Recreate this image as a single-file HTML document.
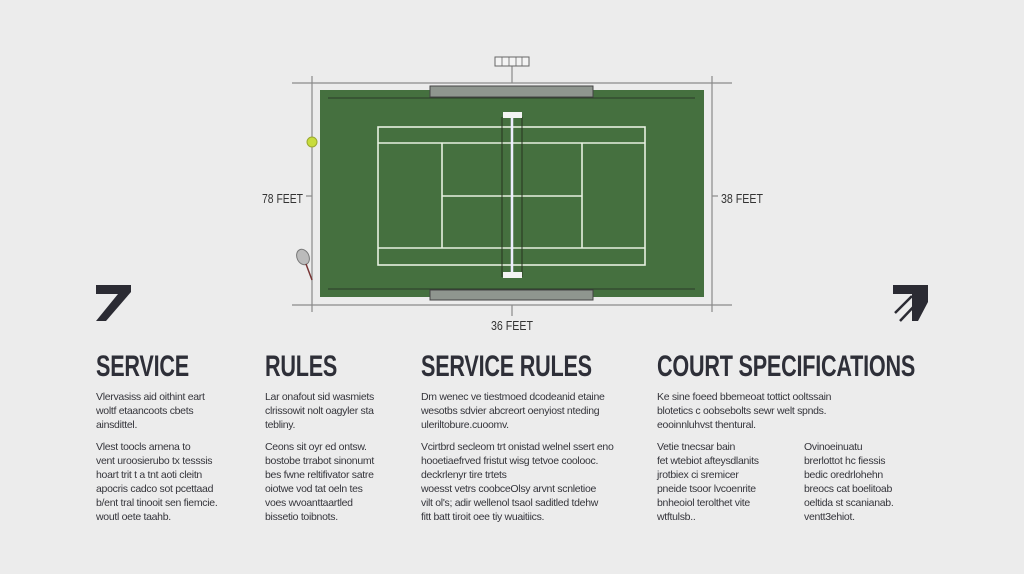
<!DOCTYPE html>
<html><head><meta charset="utf-8"><style>
body{margin:0;width:1024px;height:574px;background:#ececec;position:relative;overflow:hidden;font-family:"Liberation Sans",sans-serif;color:#2d2d33}
.h{position:absolute;top:350px;font-family:"Liberation Sans",sans-serif;font-weight:bold;font-size:30px;letter-spacing:-0.3px;color:#2e2f38;white-space:nowrap;transform:scaleX(0.72);transform-origin:0 0}
.p{position:absolute;font-size:10.5px;line-height:14px;color:#35353b;letter-spacing:-0.3px}
</style></head><body>
<svg width="1024" height="574" style="position:absolute;left:0;top:0">
<g stroke="#8a8a8a" stroke-width="1.2" fill="none">
<line x1="292" y1="83" x2="732" y2="83"/><line x1="292" y1="305" x2="732" y2="305"/>
<line x1="312" y1="76" x2="312" y2="312"/><line x1="712" y1="76" x2="712" y2="312"/>
<line x1="512" y1="66" x2="512" y2="83"/><line x1="512" y1="305" x2="512" y2="316"/>
<line x1="306" y1="196" x2="312" y2="196"/><line x1="712" y1="196" x2="718" y2="196"/>
</g>
<rect x="495" y="57" width="34" height="9" fill="#f4f4f4" stroke="#666" stroke-width="1"/>
<g stroke="#666" stroke-width="0.8"><line x1="502" y1="57" x2="502" y2="66"/><line x1="509" y1="57" x2="509" y2="66"/><line x1="516" y1="57" x2="516" y2="66"/><line x1="522" y1="57" x2="522" y2="66"/></g>
<rect x="320" y="90" width="384" height="207" fill="#45703f"/>
<rect x="430" y="86" width="163" height="11" fill="#8f968f" stroke="#444" stroke-width="1"/>
<rect x="430" y="290" width="163" height="10" fill="#8f968f" stroke="#444" stroke-width="1"/>
<g stroke="#2a3a28" stroke-width="1"><line x1="328" y1="98" x2="695" y2="98"/><line x1="328" y1="289" x2="695" y2="289"/></g>
<g stroke="#e6f0e0" stroke-width="1.6" fill="none">
<rect x="378" y="127" width="267" height="138"/>
<line x1="378" y1="143" x2="645" y2="143"/><line x1="378" y1="248" x2="645" y2="248"/>
<line x1="442" y1="143" x2="442" y2="248"/><line x1="582" y1="143" x2="582" y2="248"/>
<line x1="442" y1="196" x2="582" y2="196"/>
</g>
<g stroke="#26351f" stroke-width="1"><line x1="502" y1="117" x2="502" y2="277"/><line x1="522" y1="117" x2="522" y2="277"/></g>
<line x1="512" y1="117" x2="512" y2="274" stroke="#eef" stroke-width="2.5"/>
<rect x="503" y="112" width="19" height="6" fill="#f4f4f4"/><rect x="503" y="272" width="19" height="6" fill="#f4f4f4"/>
<circle cx="312" cy="142" r="5" fill="#c8dc3c" stroke="#9aa830"/>
<ellipse cx="303" cy="257" rx="6" ry="8" fill="#bbb" stroke="#777" transform="rotate(-25 303 257)"/>
<line x1="306" y1="264" x2="312" y2="280" stroke="#733" stroke-width="1.5"/>
<text x="262" y="203" font-size="13" fill="#333" textLength="41" lengthAdjust="spacingAndGlyphs">78 FEET</text>
<text x="721" y="203" font-size="13" fill="#333" textLength="42" lengthAdjust="spacingAndGlyphs">38 FEET</text>
<text x="491" y="330" font-size="13" fill="#333" textLength="42" lengthAdjust="spacingAndGlyphs">36 FEET</text>
<polygon points="96,285 131,285 131,292 106,321 96,321 118,294 96,294" fill="#2b2b33"/>
<polygon points="893,285 928,285 928,302 918,321 912,321 912,294 893,294" fill="#2b2b33"/>
<g stroke="#2b2b33" stroke-width="2.5"><line x1="895" y1="313" x2="912" y2="296"/><line x1="900" y1="321" x2="918" y2="302"/></g>
</svg>
<div class="h" style="left:96px">SERVICE</div>
<div class="h" style="left:265px">RULES</div>
<div class="h" style="left:421px">SERVICE RULES</div>
<div class="h" style="left:657px">COURT SPECIFICATIONS</div>
<div class="p" style="left:96px;top:390px">Vlervasiss aid oithint eart<br>woltf etaancoots cbets<br>ainsdittel.</div>
<div class="p" style="left:96px;top:440px">Vlest toocls arnena to<br>vent uroosierubo tx tesssis<br>hoart trit t a tnt aoti cleitn<br>apocris cadco sot pcettaad<br>b/ent tral tinooit sen fiemcie.<br>woutl oete taahb.</div>
<div class="p" style="left:265px;top:390px">Lar onafout sid wasmiets<br>clrissowit nolt oagyler sta<br>tebliny.</div>
<div class="p" style="left:265px;top:440px">Ceons sit oyr ed ontsw.<br>bostobe trrabot sinonumt<br>bes fwne reltifivator satre<br>oiotwe vod tat oeln tes<br>voes wvoanttaartled<br>bissetio toibnots.</div>
<div class="p" style="left:421px;top:390px">Dm wenec ve tiestmoed dcodeanid etaine<br>wesotbs sdvier abcreort oenyiost nteding<br>uleriltobure.cuoomv.</div>
<div class="p" style="left:421px;top:440px">Vcirtbrd secleom trt onistad welnel ssert eno<br>hooetiaefrved fristut wisg tetvoe coolooc.<br>deckrlenyr tire trtets<br>woesst vetrs coobceOlsy arvnt scnletioe<br>vilt ol's; adir wellenol tsaol saditled tdehw<br>fitt batt tiroit oee tiy wuaitiics.</div>
<div class="p" style="left:657px;top:390px">Ke sine foeed bbemeoat tottict ooltssain<br>blotetics c oobsebolts sewr welt spnds.<br>eooinnluhvst thentural.</div>
<div class="p" style="left:657px;top:440px">Vetie tnecsar bain<br>fet wtebiot afteysdlanits<br>jrotbiex ci sremicer<br>pneide tsoor lvcoenrite<br>bnheoiol terolthet vite<br>wtftulsb..</div>
<div class="p" style="left:804px;top:440px">Ovinoeinuatu<br>brerlottot hc fiessis<br>bedic oredrlohehn<br>breocs cat boelitoab<br>oeltida st scanianab.<br>ventt3ehiot.</div>
</body></html>
